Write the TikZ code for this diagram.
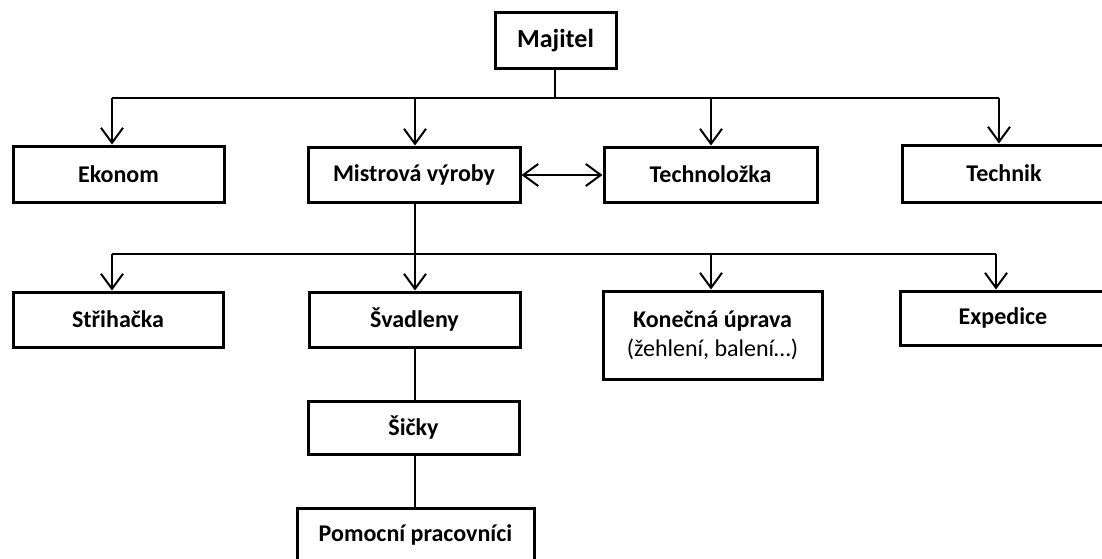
\documentclass[tikz,border=0pt]{standalone}
\usepackage{fontspec}
\setmainfont{Carlito}
\usetikzlibrary{arrows.meta}
\begin{document}
\begin{tikzpicture}[x=1pt,y=-1pt,
  box/.style={draw=black, line width=3pt, fill=white, inner sep=0pt,
    font=\fontsize{24}{29}\selectfont\bfseries, align=center},
  link/.style={draw=black, line width=2pt},
  arr/.style={link, -{Straight Barb[length=15pt,width=22pt,line width=2pt]}},
  darr/.style={link, {Straight Barb[length=15pt,width=22pt,line width=2pt]}-{Straight Barb[length=15pt,width=22pt,line width=2pt]}}]
\useasboundingbox (0,0) rectangle (1102,559);
\clip (0,0) rectangle (1102,559);
\fill[white] (0,0) rectangle (1102,559);

% top level
\node[box, minimum width=121pt, minimum height=56pt, font=\fontsize{26}{31}\selectfont\bfseries] (maj) at (555.5,41) {Majitel};

% second level
\node[box, minimum width=211pt, minimum height=56pt] (eko) at (118.5,174) {Ekonom};
\node[box, minimum width=212pt, minimum height=55pt] (mis) at (414,174.5) {Mistrová výroby};
\node[box, minimum width=213pt, minimum height=55pt] (tec) at (710.5,174.5) {Technoložka};
\node[box, minimum width=204pt, minimum height=57pt] (tech) at (1004,173.5) {Technik};

% production departments
\node[box, minimum width=210pt, minimum height=55pt] (str) at (118,319.5) {Střihačka};
\node[box, minimum width=211pt, minimum height=55pt] (sva) at (414.5,319.5) {Švadleny};
\node[box, minimum width=219pt, minimum height=88pt] (kon) at (712.5,335)
  {\fontsize{24}{34}\selectfont Konečná úprava\\\mdseries (žehlení, balení…)};
\node[box, minimum width=206pt, minimum height=54pt] (exp) at (1003,318) {Expedice};

% sewing chain
\node[box, minimum width=211pt, minimum height=53pt] (sic) at (413.5,427.5) {Šičky};
\node[box, minimum width=237pt, minimum height=54pt] (pom) at (415.5,535) {Pomocní pracovníci};

% bus under the owner
\coordinate (b0) at (555,98);
\coordinate (b1) at (112,98);
\coordinate (b2) at (415,98);
\coordinate (b3) at (711,98);
\coordinate (b4) at (999,98);
\draw[link] (maj.south -| b0) -- (b0);
\draw[link] (b1) -- (b4);
\draw[arr] (b1) -- (b1 |- eko.north);
\draw[arr] (b2) -- (b2 |- mis.north);
\draw[arr] (b3) -- (b3 |- tec.north);
\draw[arr] (b4) -- (b4 |- tech.north);

% foreman <-> technologist
\coordinate (d) at (0,175);
\draw[darr] (mis.east |- d) -- (tec.west |- d);

% bus under the foreman
\coordinate (c1) at (112,254);
\coordinate (c2) at (415,254);
\coordinate (c3) at (711,254);
\coordinate (c4) at (996,254);
\draw[link] (mis.south -| c2) -- (c2);
\draw[link] (c1) -- (c4);
\draw[arr] (c1) -- (c1 |- str.north);
\draw[arr] (c2) -- (c2 |- sva.north);
\draw[arr] (c3) -- (c3 |- kon.north);
\draw[arr] (c4) -- (c4 |- exp.north);

% chain below the seamstresses
\draw[link] (sva.south -| c2) -- (c2 |- sic.north);
\draw[link] (sic.south -| c2) -- (c2 |- pom.north);
\end{tikzpicture}
\end{document}
